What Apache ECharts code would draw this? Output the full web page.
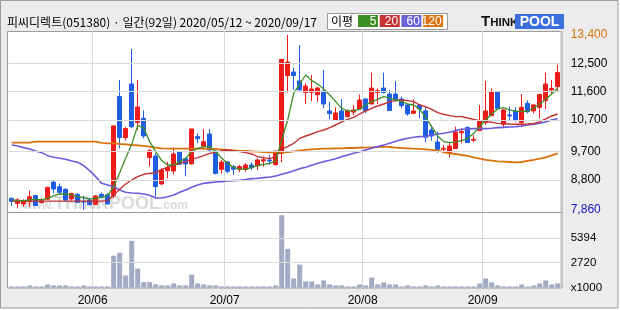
<!DOCTYPE html>
<html><head><meta charset="utf-8">
<script src="https://cdn.jsdelivr.net/npm/echarts@6/dist/echarts.min.js"></script>
<style>html,body{margin:0;padding:0;background:#fff}#c{width:620px;height:310px}</style>
</head><body><div id="c"></div>
<script>
const dates = [
'2020-05-12','2020-05-13','2020-05-14','2020-05-15','2020-05-18','2020-05-19','2020-05-20','2020-05-21','2020-05-22','2020-05-25','2020-05-26','2020-05-27','2020-05-28','2020-05-29',
'2020-06-01','2020-06-02','2020-06-03','2020-06-04','2020-06-05','2020-06-08','2020-06-09','2020-06-10','2020-06-11','2020-06-12','2020-06-15','2020-06-16','2020-06-17','2020-06-18','2020-06-19','2020-06-22','2020-06-23','2020-06-24','2020-06-25','2020-06-26','2020-06-29','2020-06-30',
'2020-07-01','2020-07-02','2020-07-03','2020-07-06','2020-07-07','2020-07-08','2020-07-09','2020-07-10','2020-07-13','2020-07-14','2020-07-15','2020-07-16','2020-07-17','2020-07-20','2020-07-21','2020-07-22','2020-07-23','2020-07-24','2020-07-27','2020-07-28','2020-07-29','2020-07-30','2020-07-31',
'2020-08-03','2020-08-04','2020-08-05','2020-08-06','2020-08-07','2020-08-10','2020-08-11','2020-08-12','2020-08-13','2020-08-14','2020-08-18','2020-08-19','2020-08-20','2020-08-21','2020-08-24','2020-08-25','2020-08-26','2020-08-27','2020-08-28','2020-08-31',
'2020-09-01','2020-09-02','2020-09-03','2020-09-04','2020-09-07','2020-09-08','2020-09-09','2020-09-10','2020-09-11','2020-09-14','2020-09-15','2020-09-16','2020-09-17'];

const opens = [8220,8060,8040,8115,8305,8085,8190,8735,8590,8505,8200,8345,8115,8165,8030,8345,8335,8305,11445,10145,11845,10620,10755,9510,9560,8675,9095,9085,9700,9475,9310,10175,9880,10260,9720,9140,9370,9225,9140,9140,9275,9255,9405,9435,9285,9645,12110,12225,11940,11570,11580,11505,11620,10990,10705,10990,10810,10955,11050,11370,11210,11570,11715,11525,11525,11370,11180,10915,11180,10990,10385,10005,9775,9665,9795,10300,10470,10060,10365,10620,10840,11590,10565,10860,10990,10620,11230,10990,11105,11315,11655,11760];
const closes = [8125,8170,8145,8270,7990,8145,8560,8515,8410,8165,8370,8095,8100,8020,8295,8270,8040,10515,10145,10430,10490,11115,10195,9730,8590,9120,9200,9625,9300,9310,10420,10110,10015,9750,9010,9370,9075,9140,9225,9275,9190,9435,9445,9405,9720,12625,12540,12110,11655,11780,11685,11715,11210,10905,10925,10705,10990,11020,11335,11000,11715,11635,11570,11000,11335,11155,10895,10990,11050,10155,10195,9775,9805,9880,10320,10335,9985,10090,10670,10990,11590,11060,11020,10830,10705,11105,10965,11180,11515,11845,11705,12205];
const lows = [7980,7900,7955,7955,7975,8060,8165,8380,8345,8115,8145,8060,7860,8000,8000,8220,8020,8220,9805,10050,10440,10385,10120,9225,8270,8640,8855,8990,9275,8920,9300,9965,9750,9730,8980,9010,9010,8960,9050,9060,9120,9120,9225,9275,9260,9360,11570,11655,11655,11210,11305,11285,11075,10725,10680,10705,10790,10860,11020,10915,11210,11210,11550,11000,11285,11075,10840,10895,10755,9995,10050,9665,9645,9520,9795,9965,9985,9995,10365,10545,10830,11060,10460,10705,10650,10490,10915,10915,10755,11050,11515,11600];
const highs = [8240,8220,8190,8465,8325,8220,8590,8780,8695,8535,8400,8380,8305,8220,8325,8400,8380,10515,11970,10490,12955,11970,11010,9785,9645,9170,9380,9825,9720,9510,10420,10280,10420,10420,9730,9435,9405,9275,9275,9330,9360,9490,9540,9595,9730,12625,13400,12360,13080,11865,12130,11760,12290,11275,11105,11360,11040,11180,11515,11390,12205,11705,12205,11655,11940,11445,11210,11360,11180,11125,10525,10335,9910,9985,10490,10440,10490,10225,11180,11940,11705,11590,11040,11125,11105,11525,11325,11210,11515,12205,11970,12455];
const volumes = [143,143,143,250,143,143,357,250,250,250,143,143,250,143,143,143,143,3463,3784,1321,5069,2071,607,607,357,250,250,464,250,250,1428,464,357,250,250,143,143,143,143,143,143,143,143,143,250,7854,4213,1000,2499,678,678,357,785,357,250,250,143,143,357,250,1107,357,571,357,357,143,250,143,143,250,143,250,143,143,143,143,143,143,464,1000,571,250,143,143,143,357,143,250,464,785,357,464];
const ma5 = [8167,8156,8146,8167,8188,8167,8220,8304,8357,8357,8325,8272,8241,8199,8220,8251,8304,8590,9033,9488,9931,10523,10460,10016,9699,9414,9276,9276,9382,9488,9699,9805,9858,9858,9699,9488,9329,9192,9150,9139,9202,9255,9298,9329,9403,10069,10703,11548,11844,12129,11950,11844,11686,11495,11284,11073,10988,10999,11041,11178,11284,11358,11443,11390,11337,11284,11210,11178,11041,10788,10492,10196,10016,9984,10006,10048,10122,10280,10492,10703,10893,11052,11094,11020,10978,10967,10988,11083,11210,11358,11527,11707];
const ma20 = [8130,8130,8130,8130,8130,8130,8130,8130,8130,8130,8130,8130,8130,8130,8130,8130,8146,8325,8505,8674,8801,8907,8981,9012,9023,9139,9202,9276,9329,9382,9456,9509,9572,9646,9678,9731,9752,9731,9699,9667,9625,9541,9509,9477,9541,9773,9858,9963,10122,10196,10259,10333,10386,10460,10544,10640,10724,10788,10893,10988,11073,11147,11210,11284,11316,11337,11316,11284,11178,11126,11041,10935,10883,10840,10809,10809,10766,10724,10682,10650,10629,10597,10587,10576,10566,10566,10576,10597,10640,10735,10830,10893];
const ma60 = [9910,9879,9826,9784,9720,9667,9572,9519,9488,9456,9403,9361,9255,9097,8907,8694,8642,8590,8484,8410,8389,8378,8357,8315,8230,8230,8272,8325,8410,8484,8568,8642,8694,8716,8737,8748,8769,8780,8790,8811,8843,8854,8875,8896,8928,8981,9033,9097,9160,9202,9266,9329,9382,9424,9477,9541,9593,9646,9699,9752,9805,9858,9910,9963,10027,10080,10122,10153,10175,10185,10217,10259,10280,10312,10365,10407,10418,10428,10428,10428,10439,10460,10470,10481,10492,10513,10544,10566,10597,10640,10703,10745];
const ma120 = [9984,9984,9984,9984,10016,10016,10016,10016,10016,10016,10016,10016,10016,10016,10016,9974,9963,9963,9942,9931,9910,9900,9879,9858,9826,9805,9794,9794,9794,9794,9794,9794,9794,9784,9784,9773,9752,9741,9720,9720,9710,9699,9688,9678,9678,9678,9688,9710,9731,9752,9773,9784,9794,9794,9805,9805,9815,9815,9826,9826,9837,9847,9858,9847,9826,9815,9805,9794,9784,9773,9752,9731,9688,9646,9625,9593,9562,9519,9477,9435,9414,9393,9382,9371,9361,9371,9403,9435,9477,9519,9583,9646];
const priceTicks = [12500, 11600, 10700, 9700, 8800];
const priceMax = 13400;
const priceMin = 7860;
const volumeTicks = [5394, 2720];
const volumeUnit = 'x1000';
const title = '피씨디렉트(051380) · 일간(92일) 2020/05/12 ~ 2020/09/17';
const maNames = ['5', '20', '60', '120'];

const C = {up:'#ef1a1a', down:'#1f5ee4', ma5:'#3c8f22', ma20:'#c23030', ma60:'#6a5cdc', ma120:'#d9720c', grid:'#d9d9d9', frame:'#9c9c9c', vol:'#a3abc4'};
const NUM = 'Liberation Sans';
const KR = 'Noto Sans CJK KR';
const CLEAR = 'rgba(0,0,0,0)';
const fmt = v => String(v).replace(/\B(?=(\d{3})+(?!\d))/g, ',');
const monthStart = i => i > 0 && dates[i].slice(5, 7) !== dates[i - 1].slice(5, 7);

const chart = echarts.init(document.getElementById('c'), null, {renderer: 'canvas'});
const xBase = (gi) => ({
  type: 'category', gridIndex: gi, data: dates, boundaryGap: true,
  axisLine: {show: false}, axisTick: {show: false},
  splitLine: {show: true, interval: (i) => monthStart(i), lineStyle: {color: C.grid, width: 1}}
});
const maLine = (data, color, w) => ({type: 'line', xAxisIndex: 0, yAxisIndex: 0, data, symbol: 'none', silent: true, z: 4,
  lineStyle: {color, width: w}});

const option = {
  backgroundColor: '#ffffff',
  animation: false,
  grid: [
    {left: 8.7, width: 552, top: 31, height: 182},
    {left: 8.7, width: 552, top: 213, height: 74.7}
  ],
  xAxis: [
    Object.assign(xBase(0), {axisLabel: {show: false}}),
    Object.assign(xBase(1), {axisLabel: {show: true, interval: (i) => monthStart(i),
      formatter: d => d.slice(2, 4) + '/' + d.slice(5, 7), color: '#000', fontSize: 12, fontFamily: NUM, margin: 7, padding: [0, 6, 0, 0]}})
  ],
  yAxis: [
    {type: 'value', gridIndex: 0, min: 7754, max: 13524, show: false},
    {type: 'value', gridIndex: 1, min: 0, max: 8091, show: false}
  ],
  series: [
    {type: 'line', xAxisIndex: 0, yAxisIndex: 0, data: [], silent: true, z: 1,
      markLine: {symbol: 'none', silent: true, animation: false,
        lineStyle: {color: C.grid, width: 1, type: 'solid'},
        label: {position: 'end', distance: 10, color: '#000', fontSize: 12, fontFamily: NUM, formatter: p => fmt(p.value)},
        data: priceTicks.map(v => ({yAxis: v})).concat([
          {yAxis: priceMax, lineStyle: {color: CLEAR}, label: {color: C.ma120, padding: [7, 0, 0, 0]}},
          {yAxis: priceMin, lineStyle: {color: CLEAR}, label: {color: '#1616c8', padding: [0, 0, 6, 0]}}
        ])}},
    {type: 'candlestick', xAxisIndex: 0, yAxisIndex: 0, z: 3, barWidth: 4, silent: true,
      data: opens.map((o, i) => [o, closes[i], lows[i], highs[i]]),
      itemStyle: {color: C.up, color0: C.down, borderColor: C.up, borderColor0: C.down, borderWidth: 1}},
    maLine(ma120, C.ma120, 1.8),
    maLine(ma60, C.ma60, 1.6),
    maLine(ma20, C.ma20, 1.4),
    maLine(ma5, C.ma5, 1.3),
    {type: 'line', xAxisIndex: 1, yAxisIndex: 1, data: [], silent: true, z: 1,
      markLine: {symbol: 'none', silent: true, animation: false,
        lineStyle: {color: C.grid, width: 1, type: 'solid'},
        label: {position: 'end', distance: 10, color: '#000', fontSize: 11.5, fontFamily: NUM, formatter: p => String(p.value)},
        data: volumeTicks.map(v => ({yAxis: v})).concat([
          {yAxis: 0, lineStyle: {color: CLEAR}, label: {formatter: volumeUnit, padding: [0, 0, 3, 0]}}
        ])}},
    {type: 'bar', xAxisIndex: 1, yAxisIndex: 1, data: volumes, barWidth: 5, silent: true, z: 3,
      itemStyle: {color: C.vol}}
  ],
  graphic: [
    {type: 'rect', z: -1, silent: true, shape: {x: 0.5, y: 0.5, width: 617.5, height: 307.5}, style: {fill: '#ececec', stroke: C.frame, lineWidth: 1}},
    {type: 'rect', z: -1, silent: true, shape: {x: 7.5, y: 31.5, width: 554.5, height: 256.5}, style: {fill: '#ffffff', stroke: C.frame, lineWidth: 1}},
    {type: 'line', z: 10, silent: true, shape: {x1: 7.5, y1: 212.5, x2: 562, y2: 212.5}, style: {stroke: C.frame, lineWidth: 1}},
    {type: 'text', z: 1, silent: true, x: 23, y: 204, style: {
      text: '{a|www.}{b|THINKPOOL}{a|.com}', verticalAlign: 'middle', fill: '#bcbcbc', opacity: 0.55,
      rich: {a: {fontSize: 12, fontWeight: 'bold', fontFamily: NUM, fill: '#bcbcbc', padding: [4, 0, 0, 0]}, b: {fontSize: 18, fontWeight: 'bold', fontFamily: NUM, fill: '#bcbcbc'}}}},
    {type: 'text', silent: true, x: 7, y: 22.5, style: {text: title, fontSize: 12, fontFamily: KR, fill: '#000', verticalAlign: 'middle'}},
    {type: 'rect', silent: true, shape: {x: 327.5, y: 13.5, width: 120, height: 16}, style: {fill: '#fff', stroke: '#999', lineWidth: 1}},
    {type: 'text', silent: true, x: 331, y: 21.5, style: {text: '이평', fontSize: 12, fontFamily: KR, fill: '#000', verticalAlign: 'middle'}},
    ...maNames.map((n, k) => ({type: 'rect', silent: true, shape: {x: 358 + k * 21.7, y: 15, width: 20, height: 12},
      style: {fill: [C.ma5, '#c43434', '#6b63d6', '#de7414'][k]}})),
    ...maNames.map((n, k) => ({type: 'text', silent: true, x: 376.5 + k * 21.7, y: 21.5,
      style: {text: n, fontSize: 12, fontFamily: NUM, fill: '#fff', align: 'right', verticalAlign: 'middle'}})),
    {type: 'text', silent: true, x: 481, y: 22, style: {text: '{t|T}{s|HINK}', verticalAlign: 'middle',
      rich: {t: {fontSize: 15, fontWeight: 'bold', fontFamily: NUM, fill: '#111'}, s: {fontSize: 11.5, fontWeight: 'bold', fontFamily: NUM, fill: '#111', padding: [2, 0, 0, 0]}}}},
    {type: 'rect', silent: true, shape: {x: 515, y: 14, width: 49, height: 15}, style: {fill: '#3b6fdc'}},
    {type: 'text', silent: true, x: 539.5, y: 22, style: {text: 'POOL', fontSize: 14, fontWeight: 'bold', fontFamily: NUM, fill: '#fff', align: 'center', verticalAlign: 'middle'}}
  ]
};
chart.setOption(option);
</script></body></html>
